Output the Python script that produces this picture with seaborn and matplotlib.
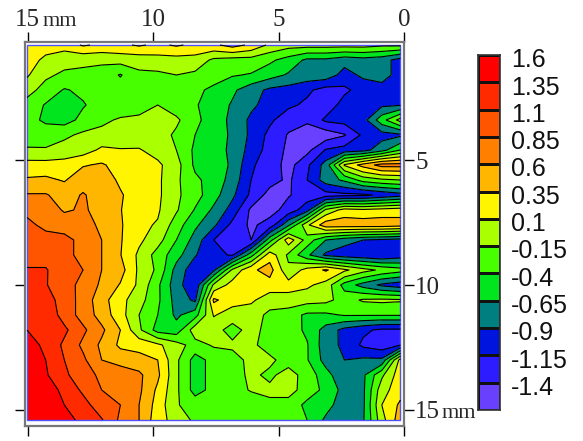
import matplotlib
matplotlib.use('Agg')
import matplotlib.pyplot as plt
from matplotlib.colors import ListedColormap, BoundaryNorm
from matplotlib.patches import Rectangle
import seaborn as sns
import numpy as np

# 等高線の値 (mm) 左から右へ x=15..0 / 上から下へ y=0.4..15.4
height = [
 [.2,.2,.2,.38,.3,.3,.38,.3,.38,.3,.3,.45,.3,.05,-.05,-.05,-.05,-.05,-.05,-.1,-.1],
 [.2,.05,-.05,-.1,-.1,-.05,-.05,0,0,0,-.2,-.25,-.25,-.35,-.5,-.7,-.7,-.8,-.75,-.8,-1.0],
 [.13,-.1,-.2,-.2,-.25,-.42,-.2,-.2,-.15,-.2,-.3,-.38,-.42,-.55,-.68,-.75,-.75,-1.0,-.85,-.85,-.95],
 [-.05,-.25,-.42,-.35,-.3,-.28,-.28,-.3,-.3,-.35,-.45,-.6,-.8,-.95,-1.0,-1.1,-1.25,-1.2,-1.05,-.95,-.92],
 [-.25,-.42,-.55,-.42,-.3,-.3,-.25,-.15,-.3,-.38,-.5,-.68,-.85,-1.0,-1.1,-1.2,-1.3,-1.05,-1.05,-.95,-.92],
 [-.3,-.45,-.5,-.33,-.2,-.12,-.1,-.05,-.1,-.35,-.5,-.72,-.95,-1.1,-1.3,-1.35,-1.1,-1.05,-1.0,-.5,-.05],
 [-.28,-.25,-.2,-.1,-.08,-.1,-.05,-.02,-.2,-.4,-.5,-.7,-.95,-1.22,-1.42,-1.55,-1.55,-1.42,-1.1,-1.0,-.95],
 [-.12,-.13,-.05,-.02,.15,.12,.12,0,-.15,-.45,-.55,-.7,-1.0,-1.25,-1.45,-1.48,-1.13,-1.05,-1.0,-.75,-.4],
 [.2,.2,.2,.33,.38,.25,.2,.15,-.05,-.45,-.55,-.68,-1.12,-1.25,-1.5,-1.2,-.8,.13,.45,.7,.7],
 [.38,.4,.33,.5,.5,.3,.2,.15,-.1,-.35,-.5,-.75,-1.15,-1.3,-1.45,-1.15,-.78,-.6,-.3,-.2,-.15],
 [.62,.62,.5,.62,.5,.38,.2,.15,-.1,-.3,-.55,-.85,-1.2,-1.5,-1.42,-1.28,-1.25,-1.22,-1.2,-1.1,-1.0],
 [.75,.7,.58,.62,.55,.36,.2,.13,-.12,-.42,-.7,-1.0,-1.45,-1.5,-1.3,-1.0,-.1,.2,.15,.2,.25],
 [.95,.75,.7,.7,.55,.38,.15,.08,-.28,-.6,-.85,-1.22,-1.45,-1.3,-.7,.05,.5,.5,.5,.5,.45],
 [1.05,1.0,.95,.75,.6,.37,.15,-.05,-.4,-.75,-1.15,-1.28,-1.4,-.5,.25,-.25,-.65,-.8,-.9,-.95,-1.0],
 [1.0,1.0,.9,.8,.6,.36,.05,-.25,-.55,-.88,-1.1,-1.17,-.5,.25,-.2,-.6,-.95,-1.05,-1.1,-1.15,-1.05],
 [1.12,1.12,.95,.85,.6,.45,.05,-.2,-.75,-1.05,-.95,-.1,.3,.45,-.1,.2,.38,.15,-.05,-.2,-.3],
 [1.15,1.12,.92,.8,.55,.33,.05,-.35,-.8,-1.1,-.1,.2,.3,.25,.2,.15,0,-.5,-.75,-.95,-1.05],
 [1.25,1.2,1.0,.75,.45,.18,-.05,-.35,-.75,-.95,.4,.2,.15,-.05,0,-.05,-.08,-.25,-.12,-.1,-.12],
 [1.3,1.28,1.0,.75,.5,.2,-.15,-.4,-.7,-.5,.12,-.02,-.05,-.2,-.28,-.45,-.45,-.38,-.38,-.38,-.38],
 [1.35,1.3,1.15,.9,.65,.35,-.1,-.5,-.55,0,-.05,-.25,-.05,-.25,-.27,-.45,-.75,-.98,-1.1,-1.2,-1.2],
 [1.45,1.3,1.05,.8,.55,.3,.25,.15,-.05,-.25,-.12,-.1,-.1,-.25,-.3,-.38,-.8,-.95,-1.2,-1.3,-1.15],
 [1.45,1.35,1.1,.9,.6,.5,.45,.35,-.1,-.5,-.32,-.25,-.08,-.1,-.25,-.38,-.75,-.9,-.85,-.85,.2],
 [1.45,1.38,1.15,.95,.8,.75,.65,.4,-.1,-.5,-.32,-.25,-.1,-.2,-.05,-.25,-.55,-.85,-.7,-.2,.25],
 [1.45,1.45,1.3,1.05,.85,.75,.65,.3,-.1,-.5,-.32,-.25,-.13,-.1,-.02,-.3,-.45,-.75,-.7,0,.25],
 [1.5,1.45,1.35,1.2,.95,.85,.6,.25,-.13,-.25,-.27,-.3,-.3,-.2,-.28,-.45,-.55,-.8,-.7,.1,.4],
 [1.5,1.5,1.42,1.3,1.12,.8,.6,.2,0,-.2,-.25,-.25,-.3,-.3,-.3,-.4,-.7,-.8,-.68,0,.5],
]
levels = [-1.65,-1.4,-1.15,-.9,-.65,-.4,-.15,.1,.35,.6,.85,1.1,1.35,1.6]
bar_labels = ['1.6','1.35','1.1','0.85','0.6','0.35','0.1','-0.15','-0.4','-0.65','-0.9','-1.15','-1.4']
colors = ['#6a40ff','#2c1cff','#0014e0','#007f80','#00e51e','#48ff00','#aaff00',
          '#fff500','#ffb600','#ff8000','#ff5500','#ff2a00','#ff0000']
x_mm = np.linspace(15.02,0.14,21)
y_mm = np.linspace(0.4,15.4,26)

W,H = 583,441
fig = plt.figure(figsize=(W/100,H/100),dpi=100)
sns.set_style('ticks')
plt.rcParams['font.family'] = ['Liberation Serif']

# メインの等高線図
ax = fig.add_axes([24.5/W,1-426/H,379.5/W,384/H])
cmap = ListedColormap(colors)
norm = BoundaryNorm(levels,cmap.N)
z = np.array(height)
ax.contourf(x_mm,y_mm,z,levels=levels,cmap=cmap,norm=norm)
ax.contour(x_mm,y_mm,z,levels=levels,colors='black',linewidths=0.8,linestyles='solid')
ax.add_patch(Rectangle((x_mm[0],y_mm[0]),x_mm[-1]-x_mm[0],y_mm[-1]-y_mm[0],
                       fill=False,edgecolor='#5050ff',linewidth=1))
ax.set_xlim(15.12,0)
ax.set_ylim(15.64,0.28)
for s in ax.spines.values():
    s.set_color('#777777')
    s.set_linewidth(1.6)
ax.set_xticks([15,10,5,0])
ax.set_yticks([5,10,15])
ax.set_xticklabels(['15','10','5','0'],fontsize=18,family='Liberation Serif')
ax.set_yticklabels(['5','10','15'],fontsize=18,family='Liberation Serif')
ax.tick_params(axis='both',length=7,width=1,color='black',pad=1,
               top=True,bottom=True,left=True,right=True,
               labeltop=True,labelbottom=False,labelleft=False,labelright=True)
ax.text(14.4,-0.37,'mm',fontsize=16,family='Liberation Serif',va='baseline',ha='left',clip_on=False)
ax.text(-1.51,15.33,'mm',fontsize=16,family='Liberation Serif',va='baseline',ha='left',clip_on=False)

# カラーバー
cax = fig.add_axes([477.5/W,1-410/H,22.5/W,355/H])
sns.heatmap(np.arange(len(colors)-1,-1,-1).reshape(-1,1),cmap=cmap,cbar=False,
            linewidths=1,linecolor='#111111',ax=cax,xticklabels=False,yticklabels=False)
for s in cax.spines.values():
    s.set_visible(True)
    s.set_color('#333333')
    s.set_linewidth(1.2)
cax.yaxis.tick_right()
cax.set_yticks(np.arange(len(bar_labels))+0.1)
cax.set_yticklabels(bar_labels,fontsize=18,family='Liberation Sans',rotation=0,color='#111111')
cax.tick_params(axis='y',length=0,pad=8)

fig.savefig('out.png',dpi=100)
